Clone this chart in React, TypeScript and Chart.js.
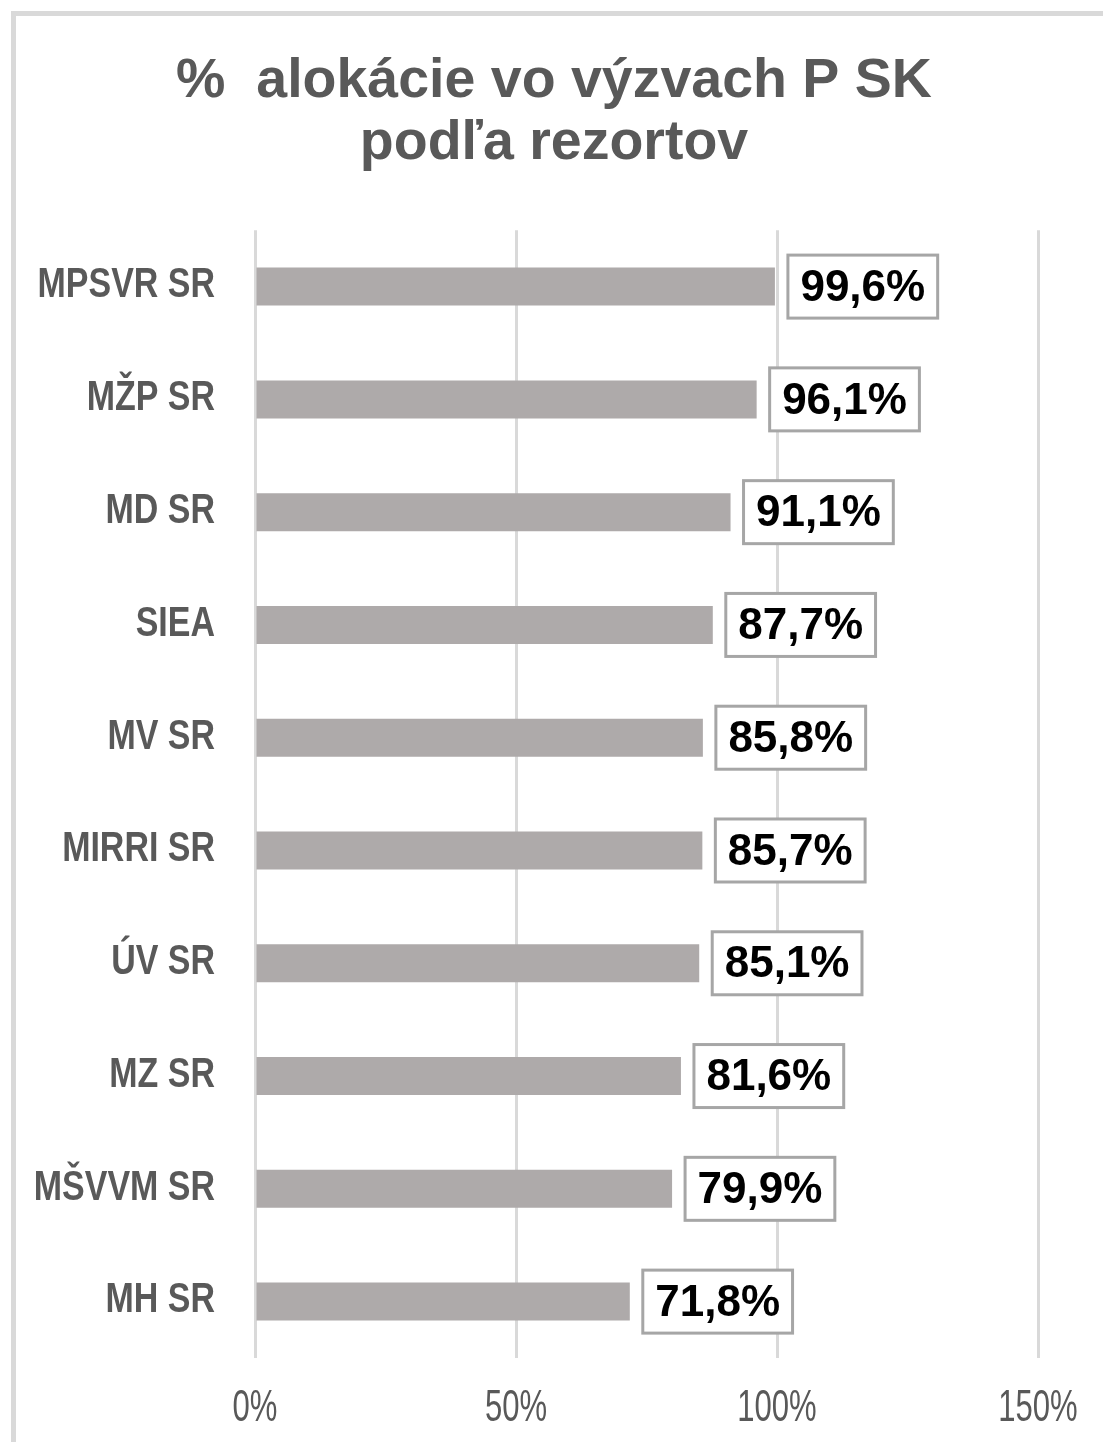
import React, { useEffect, useRef } from "react";
import { Chart, registerables } from "chart.js";

Chart.register(...registerables);

const titleLines = ["%  alokácie vo výzvach P SK", "podľa rezortov"];
const categories = [
  "MPSVR SR",
  "MŽP SR",
  "MD SR",
  "SIEA",
  "MV SR",
  "MIRRI SR",
  "ÚV SR",
  "MZ SR",
  "MŠVVM SR",
  "MH SR",
];
const values = [99.6, 96.1, 91.1, 87.7, 85.8, 85.7, 85.1, 81.6, 79.9, 71.8];
const xTickValues = [0, 50, 100, 150];

const SANS = "'Liberation Sans', Arial, Helvetica, sans-serif";

const fmt = (v: number) => v.toFixed(1).replace(".", ",") + "%";

// value labels in boxes at the end of each bar
const boxLabels = {
  id: "boxLabels",
  afterDatasetsDraw(chart: any) {
    const ctx = chart.ctx;
    const meta = chart.getDatasetMeta(0);
    ctx.save();
    ctx.font = `bold 44px ${SANS}`;
    ctx.textBaseline = "middle";
    ctx.textAlign = "left";
    meta.data.forEach((bar: any, i: number) => {
      const txt = fmt(values[i]);
      const w = ctx.measureText(txt).width;
      const left = bar.x + 13;
      const bw = w + 25;
      const bh = 63;
      const top = bar.y - bh / 2;
      ctx.fillStyle = "#ffffff";
      ctx.fillRect(left, top, bw, bh);
      ctx.lineWidth = 3;
      ctx.strokeStyle = "#a6a6a6";
      ctx.strokeRect(left, top, bw, bh);
      ctx.fillStyle = "#000000";
      ctx.fillText(txt, left + 12.5, bar.y + 2);
    });
    ctx.restore();
  },
};

// condensed (narrow) axis tick labels, positioned by the chart's own scales
const narrowTicks = {
  id: "narrowTicks",
  afterDraw(chart: any) {
    const ctx = chart.ctx;
    const ys = chart.scales.y;
    const xs = chart.scales.x;
    ctx.save();
    ctx.fillStyle = "#595959";
    // category labels
    ctx.font = `bold 43px ${SANS}`;
    ctx.textBaseline = "middle";
    ctx.textAlign = "right";
    const rightEdge = chart.chartArea.left - 40;
    ys.ticks.forEach((t: any, i: number) => {
      const y = ys.getPixelForTick(i);
      ctx.save();
      ctx.translate(rightEdge, y - 1);
      ctx.scale(0.79, 1);
      ctx.fillText(categories[t.value] ?? categories[i], 0, 0);
      ctx.restore();
    });
    // value axis labels
    ctx.font = `45px ${SANS}`;
    ctx.textAlign = "center";
    const yText = chart.chartArea.bottom + 51;
    xTickValues.forEach((v) => {
      const x = xs.getPixelForValue(v);
      ctx.save();
      ctx.translate(x, yText);
      ctx.scale(0.69, 1);
      ctx.fillText(v + "%", 0, 0);
      ctx.restore();
    });
    ctx.restore();
  },
};

export default function App() {
  const ref = useRef<HTMLCanvasElement | null>(null);

  useEffect(() => {
    if (!ref.current) return;
    const chart = new Chart(ref.current, {
      type: "bar",
      data: {
        labels: categories,
        datasets: [
          {
            data: values,
            backgroundColor: "#aeaaaa",
            borderWidth: 0,
            barPercentage: 0.337,
            categoryPercentage: 1,
          },
        ],
      },
      options: {
        indexAxis: "y",
        responsive: false,
        devicePixelRatio: 1,
        animation: false,
        layout: { padding: { left: 70, right: 65, top: 0, bottom: 10 } },
        plugins: {
          legend: { display: false },
          tooltip: { enabled: false },
          title: {
            display: true,
            text: titleLines,
            color: "#595959",
            font: { family: SANS, size: 55.5, weight: "bold", lineHeight: 1.11 },
            padding: { top: 51, bottom: 56 },
          },
        },
        scales: {
          x: {
            min: 0,
            max: 150,
            afterBuildTicks: (scale: any) => {
              scale.ticks = xTickValues.map((v) => ({ value: v }));
            },
            afterFit: (scale: any) => {
              scale.height = 74;
            },
            grid: { color: "#d9d9d9", lineWidth: 3, drawTicks: false },
            border: { display: false },
            ticks: { display: false },
          },
          y: {
            grid: { display: false },
            border: { display: false },
            afterFit: (scale: any) => {
              scale.width = 185;
            },
            ticks: { display: false },
          },
        },
      },
      plugins: [boxLabels, narrowTicks],
    });
    return () => chart.destroy();
  }, []);

  return (
    <div
      style={{
        position: "absolute",
        left: 0,
        top: 0,
        width: 1103,
        height: 1442,
        overflow: "hidden",
        background: "#ffffff",
      }}
    >
      <div
        style={{
          position: "absolute",
          left: 11,
          top: 11,
          width: 1200,
          height: 1500,
          borderLeft: "5px solid #d9d9d9",
          borderTop: "5px solid #d9d9d9",
        }}
      />
      <canvas
        ref={ref}
        width={1103}
        height={1442}
        style={{ position: "absolute", left: 0, top: 0, width: 1103, height: 1442 }}
      />
    </div>
  );
}
